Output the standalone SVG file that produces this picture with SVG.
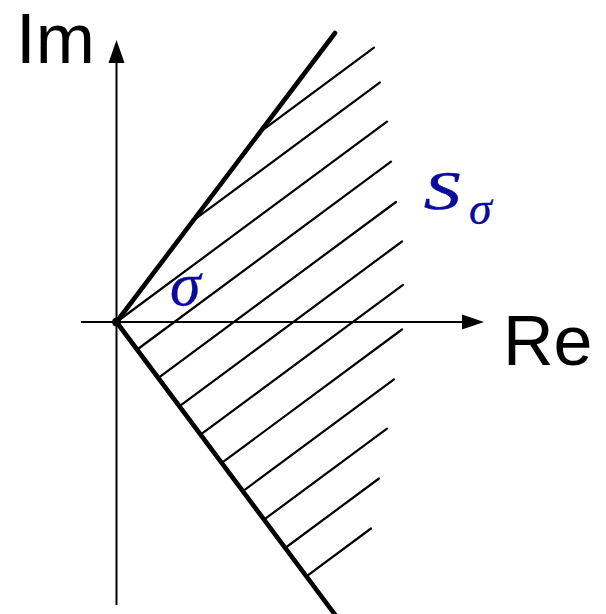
<svg xmlns="http://www.w3.org/2000/svg" width="606" height="614" viewBox="0 0 606 614">
<style>
.ax{stroke:#000;stroke-width:2;fill:none}
.hatch{stroke:#000;stroke-width:2.2;fill:none;stroke-linecap:round}
.bd{stroke:#000;stroke-width:4.6;fill:none;stroke-linecap:round}
.lbl{font-family:"Liberation Sans",Arial,sans-serif;fill:#000}
.math{font-family:"Liberation Serif","Times New Roman",serif;font-style:italic;fill:#0a0a9c}
</style>
<rect width="606" height="614" fill="#fff"/>
<g id="axes">
<line class="ax" x1="116.5" y1="605" x2="116.5" y2="58"/>
<polygon points="116.5,40 108.5,63 124.5,63" fill="#000"/>
<line class="ax" x1="81" y1="322" x2="465" y2="322"/>
<polygon points="484,322 462,314.5 462,329.5" fill="#000"/>
</g>
<g id="hatching">
<line class="hatch" x1="257.9" y1="133.6" x2="374" y2="47.7"/>
<line class="hatch" x1="192" y1="221.4" x2="380" y2="82.3"/>
<line class="hatch" x1="116.5" y1="322" x2="387" y2="121.6"/>
<line class="hatch" x1="137.2" y1="349.5" x2="391" y2="161.7"/>
<line class="hatch" x1="158.4" y1="377.8" x2="396" y2="202"/>
<line class="hatch" x1="179.6" y1="406.1" x2="402" y2="241.5"/>
<line class="hatch" x1="200.9" y1="434.3" x2="403" y2="284.8"/>
<line class="hatch" x1="222.1" y1="462.6" x2="402" y2="329.5"/>
<line class="hatch" x1="243.3" y1="490.9" x2="394" y2="379.4"/>
<line class="hatch" x1="264.6" y1="519.2" x2="387" y2="428.6"/>
<line class="hatch" x1="285.8" y1="547.5" x2="379" y2="478.5"/>
<line class="hatch" x1="307.1" y1="575.8" x2="371" y2="528.5"/>
</g>
<g id="boundaries">
<line class="bd" x1="116.5" y1="322" x2="335" y2="33"/>
<line class="bd" x1="116.5" y1="322" x2="336" y2="616"/>
<circle cx="116.5" cy="322" r="4.5" fill="#000"/>
</g>
<g id="labels">
<text class="lbl" x="16" y="63" font-size="71">Im</text>
<text class="lbl" x="503" y="365" font-size="70">Re</text>
<text class="math" x="170" y="305" font-size="62" stroke="#0a0a9c" stroke-width="0.3">σ</text>
<text class="math" transform="translate(424,209) scale(1.35,1)" x="0" y="0" font-size="54" stroke="#0a0a9c" stroke-width="0.7">S</text>
<text class="math" x="469" y="224" font-size="46" stroke="#0a0a9c" stroke-width="0.3">σ</text>
</g>
</svg>
